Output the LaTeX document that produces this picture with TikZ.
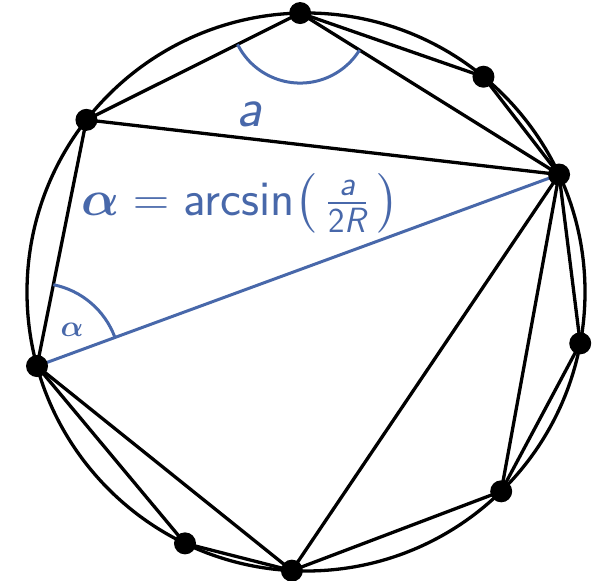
\RequirePackage{fix-cm}
\documentclass[tikz,border=0pt]{standalone}
\usepackage{amsmath}
\usepackage{xcolor}
\usepackage{tikz}
\usetikzlibrary{angles, calc}
\definecolor{arcblue}{RGB}{72,104,170}

\begin{document}
\begin{tikzpicture}[x=0.5pt, y=0.5pt, font=\sffamily]
    \tikzstyle{edge} = [line width=1.65pt, black]
    \tikzstyle{chord} = [line width=1.5pt, arcblue]
    \tikzstyle{angmark} = [draw=arcblue, line width=1.5pt]
    \tikzstyle{dot} = [circle, fill=black, inner sep=0pt, minimum size=11pt]
    \tikzstyle{lbl} = [text=arcblue, inner sep=0pt]

    \useasboundingbox (-306,-289) rectangle (286,292);

    % points on the circle
    \coordinate (c) at (0,0);
    \foreach \n/\a in {1/91.2, 2/50.5, 3/24.9, 4/-10.6, 5/-45.6, 6/267.1, 7/244.3, 8/195.4, 9/141.9}
        \coordinate (p\n) at (\a:279);

    \draw[edge] (c) circle (279);
    \draw[edge] (p1) -- (p2) -- (p3) -- (p4) -- (p5) -- (p6) -- (p7) -- (p8) -- (p9) -- cycle;
    \foreach \i/\j in {1/3, 9/3, 3/6, 3/5, 8/6}
        \draw[edge] (p\i) -- (p\j);
    \draw[chord] (p8) -- (p3);

    \pic[angmark, angle radius=35pt] {angle = p9--p1--p3};
    \pic[angmark, angle radius=41.5pt] {angle = p3--p8--p9};

    \foreach \n in {1,...,9}
        \node[dot] (d\n) at (p\n) {};

    \node[lbl, font=\fontsize{28}{32}\selectfont\sffamily\itshape] (side) at (-56.5,178) {a};
    \node[lbl, font=\fontsize{25}{30}\selectfont\sffamily] (rule) at (-65.5,89)
        {$\boldsymbol{\alpha} = \textsf{arcsin}\bigl(\,\frac{\textsf{\itshape a}}{\textsf{2\itshape R}}\,\bigr)$};
    \node[lbl, font=\fontsize{15}{18}\selectfont] (alpha) at (-234,-38) {$\boldsymbol{\alpha}$};
\end{tikzpicture}
\end{document}
